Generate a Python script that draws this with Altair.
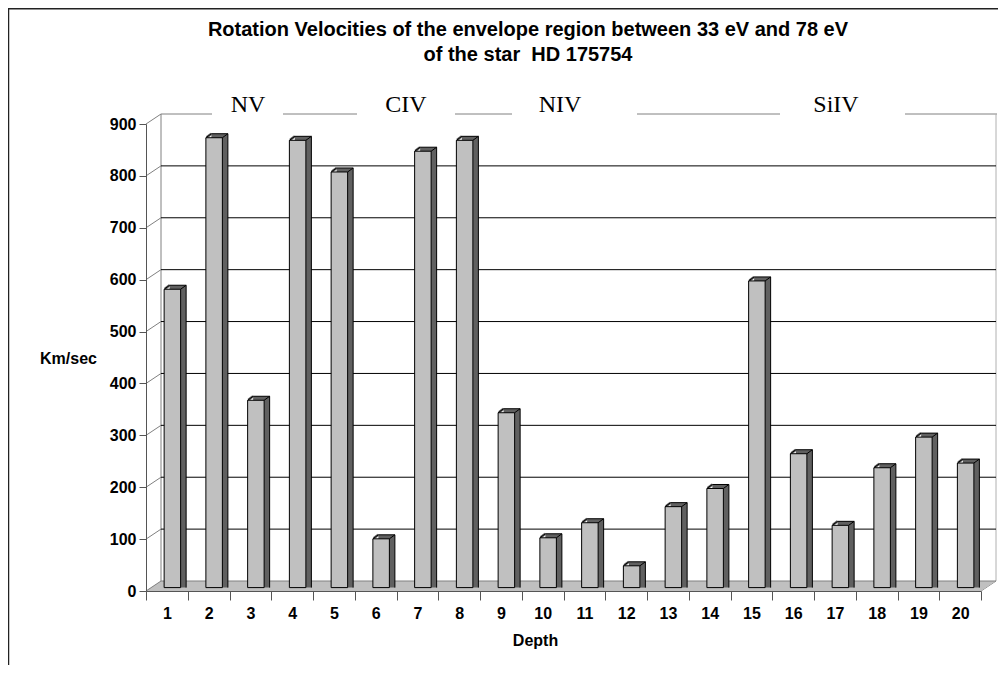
import altair as alt
import pandas as pd

# ---------------- data ----------------
depth = list(range(1, 21))
velocity = [575, 867, 361, 862, 801, 94, 841, 862, 337, 96,
            125, 42, 156, 191, 591, 258, 120, 231, 290, 240]
y_ticks = [0, 100, 200, 300, 400, 500, 600, 700, 800, 900]
ion_labels = ["NV", "CIV", "NIV", "SiIV"]
title_lines = ["Rotation Velocities of the envelope region between 33 eV and 78 eV",
               "of the star\u00a0\u00a0HD 175754"]

# ---------------- layout (pixels, plot-area coordinates) ----------------
W, H = 835, 467
DX, DY = 15, 10            # depth of the 3-D box
BW = 16.5                  # bar front width
BX, BY = 5.5, -3.4         # front-face shift from the front plane
FX, FY = 5.5, -4           # bar depth
ion_x = [102, 260, 414, 690]
ion_y = -12
wall_top_segments = [(15, 66), (137, 211), (309, 366), (491, 634), (759, 851)]
title_x, title_y = [382, 382], [-94, -69]
FONT = "Liberation Sans"

bars = pd.DataFrame({"Depth": depth, "Velocity": velocity})
ticks = pd.DataFrame({"v": y_ticks})

# ---------------- shared scales / axes ----------------
XS = alt.Scale(paddingInner=0, paddingOuter=0)
YS = alt.Scale(domain=[0, 900])
X_AXIS = alt.Axis(title="Depth", labelAngle=0, tickBand="extent",
                  tickSize=9, tickColor="#555", domainColor="#555",
                  labelFont=FONT, labelFontSize=16, labelFontWeight="bold",
                  labelColor="black", labelPadding=5,
                  titleFont=FONT, titleFontSize=16, titleFontWeight="bold",
                  titleColor="black", titleX=389, titleY=49,
                  titleBaseline="middle", titleAlign="center", zindex=2)
Y_AXIS = alt.Axis(title="Km/sec", values=y_ticks, grid=False,
                  tickSize=7, tickColor="#555", domainColor="#555",
                  labelFont=FONT, labelFontSize=16, labelFontWeight="bold",
                  labelColor="black", labelPadding=3,
                  titleFont=FONT, titleFontSize=16, titleFontWeight="bold",
                  titleColor="black", titleAngle=0, titleX=-78, titleY=234,
                  titleAlign="center", titleBaseline="middle", zindex=2)


def XD(band=None):
    if band is None:
        return alt.X("Depth:O", scale=XS, axis=X_AXIS)
    return alt.X("Depth:O", scale=XS, axis=X_AXIS, bandPosition=band)


def YF(field):
    return alt.Y(field, scale=YS, axis=Y_AXIS)


# ---------------- helpers ----------------
def px_rules(rows):
    df = pd.DataFrame(rows, columns=["x1", "y1", "x2", "y2", "c", "w"])
    return alt.Chart(df).mark_rule().encode(
        x=alt.X("x1:Q", scale=None),
        x2="x2:Q",
        y=alt.Y("y1:Q", scale=None),
        y2="y2:Q",
        color=alt.Color("c:N", scale=None, legend=None),
        strokeWidth=alt.StrokeWidth("w:Q", scale=None, legend=None),
    )


def bar_edge(dx1, dy1, dx2, dy2, to_zero=False, color="black", width=1):
    enc = dict(x=XD(0.5), x2=alt.X2("Depth", bandPosition=0.5), y=YF("Velocity:Q"))
    enc["y2"] = alt.datum(0) if to_zero else alt.Y2("Velocity")
    return alt.Chart(bars).mark_rule(
        xOffset=dx1, x2Offset=dx2, yOffset=dy1, y2Offset=dy2,
        color=color, strokeWidth=width).encode(**enc)


# ---------------- decorations ----------------
frame = px_rules([
    (-137.5, -116, -137.5, 545, "#222", 1.5),
    (-138, -115.3, 860, -115.3, "#222", 1.5),
])

wall = px_rules(
    [(a, -10, b, -10, "#808080", 1) for a, b in wall_top_segments]
    + [(DX, -10, DX, H - DY, "#808080", 1),
       (W + DX, -10, W + DX, H - DY, "#b0b0b0", 1),
       (W, H, W + DX, H - DY, "#808080", 1)]
)

floor_rows = []
for i in range(DY):
    s = (i + 0.5) * DX / DY
    floor_rows.append((DX - s, H - DY + i + 0.5, W + DX - s, H - DY + i + 0.5, "#c0c0c0", 1))
floor = px_rules(floor_rows)

grid = alt.Chart(ticks).transform_filter(
    (alt.datum.v > 0) & (alt.datum.v < 900)
).mark_rule(yOffset=-DY, color="black", strokeWidth=1).encode(
    y=YF("v:Q"), x=alt.value(DX), x2=alt.value(W + DX))

floor_back = alt.Chart(ticks).transform_filter(alt.datum.v == 0).mark_rule(
    yOffset=-DY, color="#808080", strokeWidth=1).encode(
    y=YF("v:Q"), x=alt.value(DX), x2=alt.value(W + DX))

connectors = alt.Chart(ticks).mark_rule(
    y2Offset=-DY, color="#808080", strokeWidth=1).encode(
    y=YF("v:Q"), y2="v:Q", x=alt.value(0), x2=alt.value(DX))

# ---------------- bars ----------------
L = BX - BW / 2
R = BX + BW / 2

block = alt.Chart(bars).mark_bar(
    size=BW, xOffset=BX + FX, yOffset=BY + FY, y2Offset=BY,
    color="#606060", strokeWidth=0).encode(
    x=XD(), y=YF("Velocity:Q"), y2=alt.datum(0))

tri_fill = bar_edge(L + 0.8, BY - 0.5, L + FX, BY + FY, color="#606060", width=2.5)

front = alt.Chart(bars).mark_bar(
    size=BW, xOffset=BX, yOffset=BY, y2Offset=BY,
    color="#c0c0c0", stroke="black", strokeWidth=1).encode(
    x=XD(), y=YF("Velocity:Q"), y2=alt.datum(0))

edges = [
    bar_edge(L, BY, L + FX, BY + FY),
    bar_edge(L + FX, BY + FY, R + FX, BY + FY),
    bar_edge(R, BY, R + FX, BY + FY),
    bar_edge(R + FX, BY + FY, R + FX, BY, to_zero=True),
]

# ---------------- texts ----------------
ions = alt.Chart(pd.DataFrame({"t": ion_labels, "px": ion_x})).mark_text(
    font="Liberation Serif", fontSize=24, color="black", align="center",
    baseline="alphabetic").encode(
    text="t:N", x=alt.X("px:Q", scale=None), y=alt.value(ion_y))

titles = alt.Chart(pd.DataFrame({"t": title_lines, "px": title_x, "py": title_y})).mark_text(
    font=FONT, fontSize=20, fontWeight="bold", color="black", align="center",
    baseline="middle").encode(
    text="t:N", x=alt.X("px:Q", scale=None),
    y=alt.Y("py:Q", scale=None))

chart = alt.layer(
    frame, wall, floor, floor_back, grid, connectors,
    block, tri_fill, front, *edges, ions, titles,
).properties(
    width=W, height=H,
    autosize=alt.AutoSizeParams(type="none"),
    padding={"left": 138, "top": 116, "right": 17, "bottom": 74},
).configure_view(stroke=None)

chart.save("out.html", embed_options={"renderer": "svg", "actions": False})
